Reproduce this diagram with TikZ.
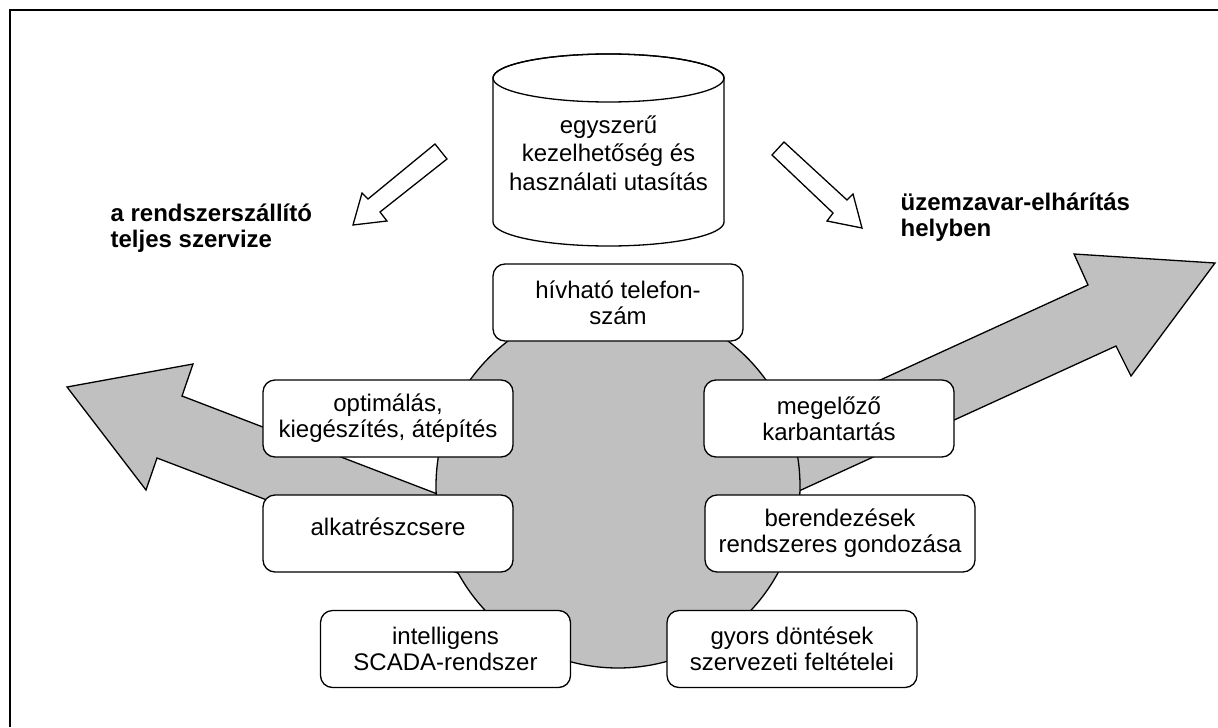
\documentclass[tikz,border=0pt]{standalone}
\usepackage{fontspec}
\setmainfont{Liberation Sans}
\usepackage{xcolor}
\definecolor{shade}{RGB}{192,192,192}
\tikzset{
    doboz/.style={draw, fill=white, rounded corners=6pt, minimum width=125pt,
        minimum height=38.5pt, inner sep=2pt, align=center,
        font=\fontsize{12}{13}\selectfont},
    cimke/.style={align=left, inner sep=0pt, font=\fontsize{12}{13}\selectfont\bfseries},
    nagynyil/.style={draw, fill=shade, line join=miter},
    uresnyil/.style={draw, fill=white, line join=miter}
}

\begin{document}
\begin{tikzpicture}[x=0.5pt, y=-0.5pt, line width=0.65pt]
    \useasboundingbox (0,0) rectangle (1218,727);
    % Frame, only top and left fit on the page
    \draw[line width=1.35pt] (10,727) -- (10,10) -- (1218,10);
    % Hollow arrows from the manual
    \draw[uresnyil]
        (435,144) -- (368,199) -- (362,193) -- (353,225)
        -- (387,221) -- (380,212) -- (447,159) -- cycle;
    \draw[uresnyil]
        (784,142) -- (847,200) -- (853,194) -- (862,228)
        -- (827,221) -- (833,213) -- (772,155) -- cycle;
    % Big grey arrows, ends hidden under the disc
    \draw[nagynyil]
        (500,518) -- (182,396) -- (193,364) -- (67,387)
        -- (146,490) -- (157,458) -- (476,580) -- cycle;
    \draw[nagynyil]
        (760,435) -- (1088,285) -- (1074,254) -- (1215,263)
        -- (1131,376) -- (1116,346) -- (788,496) -- cycle;
    % Disc
    \node[circle, draw, fill=shade, minimum size=182pt, inner sep=0pt] (kozep) at (618,486) {};
    % Cylinder
    \draw[fill=white]
        (493,78) -- (493,222)
        arc[start angle=180, end angle=0, x radius=115.5, y radius=24]
        -- (724,78)
        arc[start angle=0, end angle=-180, x radius=115.5, y radius=24]
        -- cycle;
    \draw (608.5,78) ellipse[x radius=115.5, y radius=24];
    \node[align=center, font=\fontsize{12}{14.3}\selectfont] (kezeles) at (608.5,153)
        {egyszerű\\kezelhetőség és\\használati utasítás};
    % Boxes
    \node[doboz] (telefon) at (618,302.5) {hívható telefon-\\szám};
    \node[doboz] (optim) at (388,418.5) {optimálás,\\kiegészítés, átépítés};
    \node[doboz, text depth=7pt] (alkat) at (388,533.5) {alkatrészcsere};
    \node[doboz] (scada) at (445.5,649) {intelligens\\SCADA-rendszer};
    \node[doboz] (megelozo) at (829,418.5) {megelőző\\karbantartás};
    \node[doboz, minimum width=135pt] (gondozas) at (840,533.5) {berendezések\\rendszeres gondozása};
    \node[doboz] (dontes) at (792,649) {gyors döntések\\szervezeti feltételei};
    % Side labels
    \node[cimke, anchor=west] (szallito) at (110,228.5) {a rendszerszállító\\teljes szervize};
    \node[cimke, anchor=west] (elharitas) at (900,217.5) {üzemzavar-elhárítás\\helyben};
\end{tikzpicture}
\end{document}
